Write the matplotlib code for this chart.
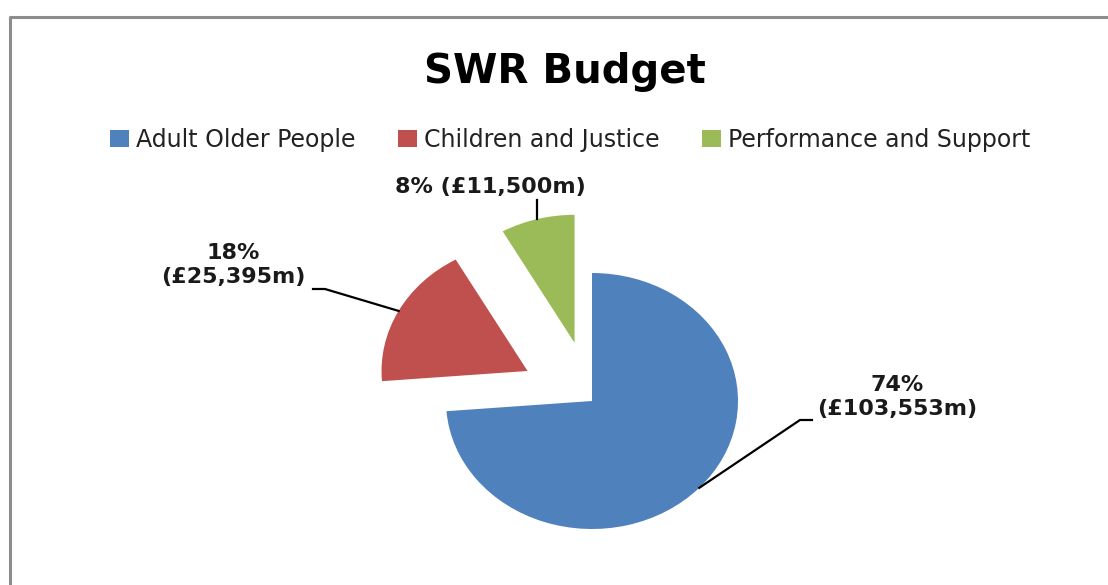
import numpy as np
import matplotlib
matplotlib.use("Agg")
import matplotlib.pyplot as plt
from matplotlib.lines import Line2D

# data
categories = ["Adult Older People", "Children and Justice", "Performance and Support"]
budget_m = [103553, 25395, 11500]
percent_labels = ["74%", "18%", "8%"]
value_labels = ["(£103,553m)", "(£25,395m)", "(£11,500m)"]
colours = ["#4F81BD", "#C0504D", "#9BBB59"]
explode = [0, 0.5, 0.47]

plt.rcParams["font.family"] = ["DejaVu Sans"]

W, H = 1108, 585
fig = plt.figure(figsize=(W / 100, H / 100), dpi=100)
ax = fig.add_axes([0, 0, 1, 1])

wedges, _ = ax.pie(
    budget_m,
    colors=colours,
    explode=explode,
    startangle=90,
    counterclock=False,
    radius=1.0,
    wedgeprops={"linewidth": 0},
)

# the source picture is a bit stretched sideways: x unit 146 px, y unit 128 px
cx, cy = 592, 401
ux, uy = 146, 128
ax.set_aspect("auto")
ax.set_xlim(-cx / ux, (W - cx) / ux)
ax.set_ylim(-(H - cy) / uy, cy / uy)
ax.axis("off")


def px(x, y):
    return (x - cx) / ux, (cy - y) / uy


def arc_mid(w):
    t = np.deg2rad((w.theta1 + w.theta2) / 2)
    return w.center[0] + w.r * np.cos(t), w.center[1] + w.r * np.sin(t)


label_kw = dict(fontsize=16, fontweight="bold", color="#1a1a1a", ha="center", va="center")

# blue: Adult Older People
p0 = arc_mid(wedges[0])
e1, e2 = px(800, 420), px(812, 420)
ax.add_line(Line2D([p0[0], e1[0], e2[0]], [p0[1], e1[1], e2[1]], color="black", lw=1.6))
ax.text(*px(897, 397), f"{percent_labels[0]}\n{value_labels[0]}", linespacing=1.25, **label_kw)

# red: Children and Justice
p1 = arc_mid(wedges[1])
e1, e2 = px(325, 289), px(313, 289)
ax.add_line(Line2D([p1[0], e1[0], e2[0]], [p1[1], e1[1], e2[1]], color="black", lw=1.6))
ax.text(*px(233, 265), f"{percent_labels[1]}\n{value_labels[1]}", linespacing=1.25, **label_kw)

# green: Performance and Support
p2 = arc_mid(wedges[2])
top = px(0, 200)[1]
ax.add_line(Line2D([p2[0], p2[0]], [p2[1], top], color="black", lw=1.6))
ax.text(*px(490, 187), f"{percent_labels[2]} {value_labels[2]}", **label_kw)

# title + legend
fig.text(565 / W, 1 - 83 / H, "SWR Budget", fontsize=29, fontweight="bold",
         ha="center", va="baseline", color="black")
fig.legend(
    wedges, categories,
    loc="center", bbox_to_anchor=(570 / W, 1 - 140 / H),
    ncol=3, frameon=False, fontsize=17,
    handlelength=0.8, handleheight=0.75, handletextpad=0.3,
    columnspacing=1.8, labelcolor="#222222",
)

# chart frame (left and top edges visible in the crop)
fr = 1 - 17 / H
fl = 10 / W
fig.add_artist(Line2D([fl, fl, 1], [0, fr, fr], transform=fig.transFigure,
                      color="#8c8c8c", lw=2.2))

fig.savefig("out.png", dpi=100, facecolor="white")
